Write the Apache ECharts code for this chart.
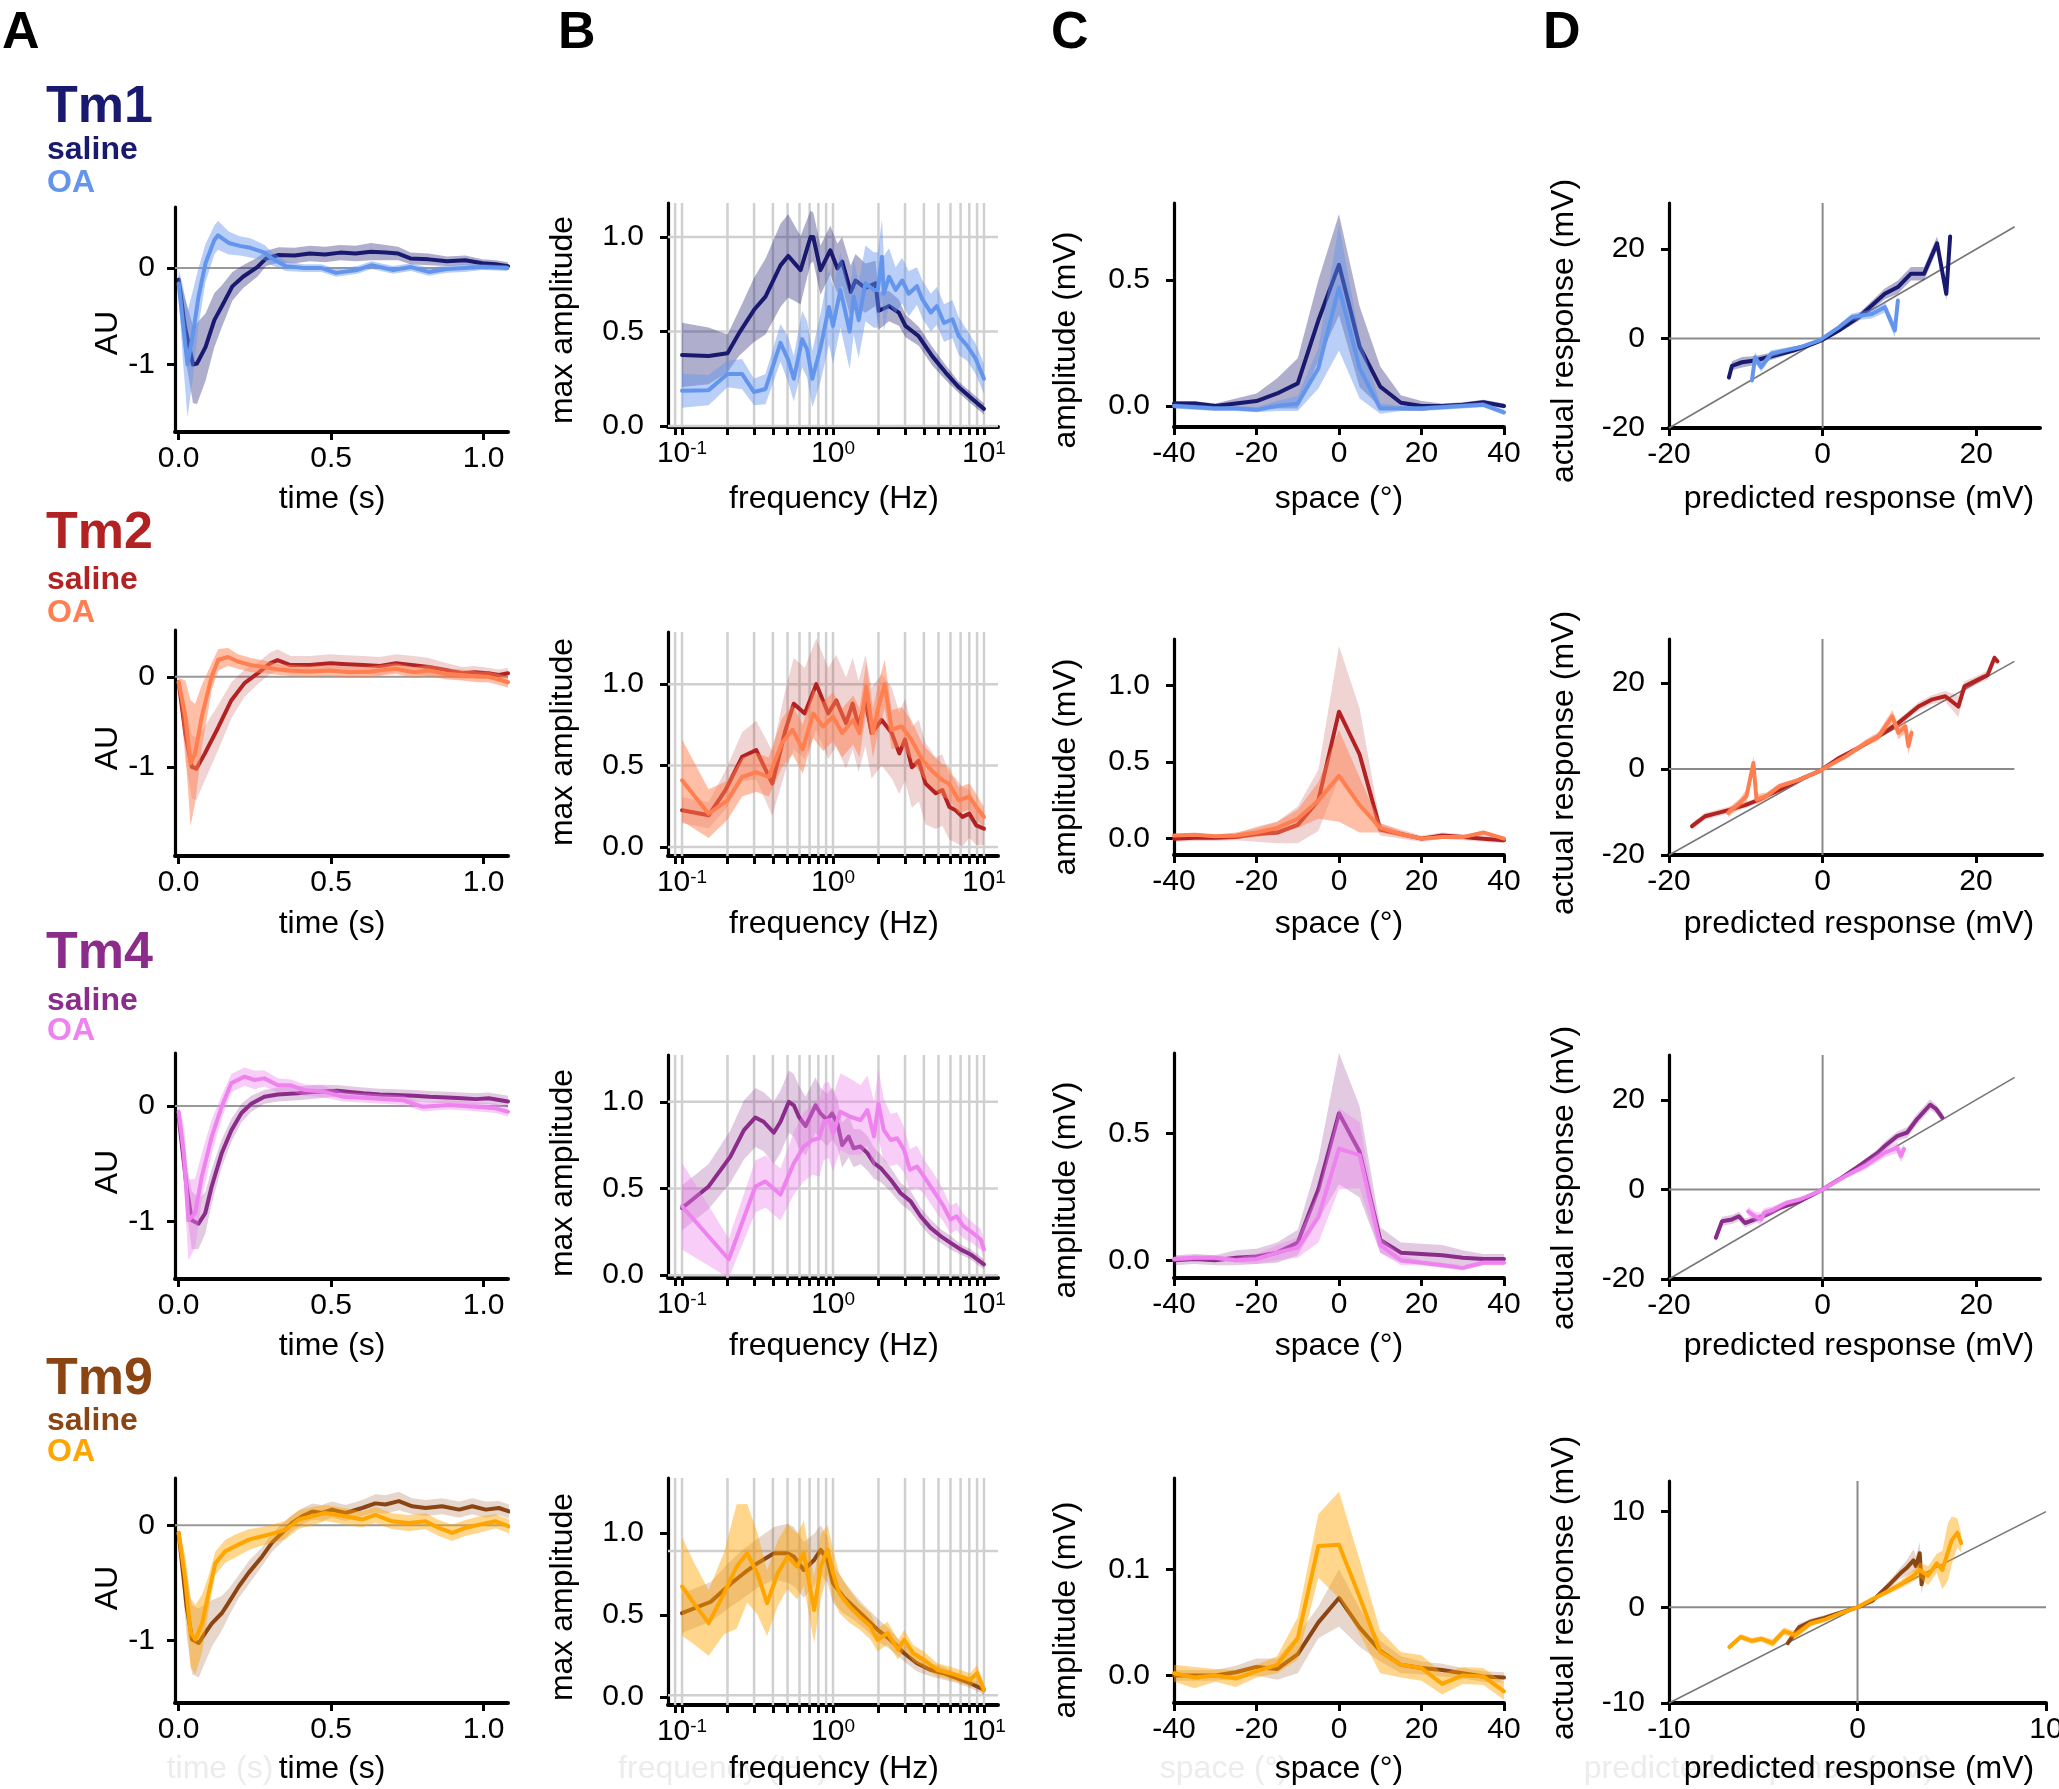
<!DOCTYPE html>
<html><head><meta charset="utf-8">
<script src="https://cdn.jsdelivr.net/npm/echarts@6/dist/echarts.min.js"></script>
<style>html,body{margin:0;padding:0;background:#fff;}#c{width:2059px;height:1789px;}</style>
</head><body><div id="c"></div>
<script>
// ===================== DATA =====================
// ---- Column A: temporal kernels (time s, AU) ----
const tm1TimeSalineT    = [0,0.02,0.047,0.06,0.088,0.117,0.141,0.176,0.211,0.258,0.287,0.328,0.38,0.43,0.48,0.53,0.58,0.63,0.68,0.72,0.76,0.82,0.88,0.94,0.996,1.04,1.08];
const tm1TimeSalineMean = [-0.12,-0.6,-1.0,-0.99,-0.82,-0.54,-0.40,-0.19,-0.09,0.01,0.10,0.135,0.13,0.15,0.14,0.16,0.15,0.17,0.16,0.15,0.10,0.09,0.07,0.08,0.05,0.04,0.02];
const tm1TimeSalineSem  = [0.05,0.3,0.4,0.42,0.35,0.28,0.22,0.15,0.12,0.1,0.08,0.08,0.08,0.08,0.08,0.08,0.08,0.09,0.08,0.07,0.06,0.06,0.05,0.05,0.04,0.04,0.04];
const tm1TimeOAT    = [0,0.015,0.029,0.047,0.065,0.088,0.117,0.129,0.164,0.2,0.235,0.282,0.305,0.352,0.41,0.469,0.516,0.586,0.633,0.703,0.762,0.82,0.879,0.938,0.996,1.078];
const tm1TimeOAMean = [-0.16,-0.6,-1.0,-0.68,-0.3,0.05,0.29,0.34,0.26,0.23,0.21,0.16,0.10,0.02,0.0,0.0,-0.05,-0.02,0.03,-0.02,0.01,-0.04,-0.01,0.0,0.01,0.0];
const tm1TimeOASem  = [0.15,0.4,0.55,0.45,0.3,0.2,0.15,0.15,0.12,0.1,0.1,0.08,0.07,0.05,0.04,0.04,0.04,0.04,0.04,0.04,0.04,0.04,0.04,0.04,0.03,0.03];

const tm2TimeSalineT    = [0,0.022,0.043,0.058,0.086,0.13,0.173,0.216,0.26,0.30,0.324,0.367,0.43,0.497,0.55,0.605,0.66,0.713,0.77,0.82,0.87,0.93,0.97,1.015,1.05,1.08];
const tm2TimeSalineMean = [-0.06,-0.63,-1.0,-1.02,-0.85,-0.56,-0.26,-0.07,0.04,0.15,0.185,0.13,0.13,0.15,0.14,0.13,0.12,0.15,0.13,0.11,0.08,0.04,0.05,0.04,0.02,0.04];
const tm2TimeSalineSem  = [0.05,0.3,0.35,0.35,0.3,0.25,0.2,0.15,0.12,0.12,0.12,0.1,0.1,0.1,0.1,0.1,0.1,0.1,0.1,0.1,0.08,0.07,0.07,0.06,0.06,0.06];
const tm2TimeOAT    = [0,0.022,0.039,0.054,0.076,0.108,0.13,0.162,0.194,0.238,0.28,0.33,0.367,0.43,0.497,0.56,0.626,0.68,0.713,0.77,0.82,0.88,0.93,0.98,1.015,1.05,1.08];
const tm2TimeOAMean = [-0.06,-0.44,-0.96,-0.85,-0.44,0.0,0.19,0.22,0.17,0.13,0.11,0.08,0.07,0.06,0.07,0.05,0.056,0.08,0.09,0.05,0.07,0.03,0.02,0.0,0.0,-0.03,-0.06];
const tm2TimeOASem  = [0.05,0.4,0.7,0.55,0.35,0.15,0.12,0.1,0.08,0.08,0.07,0.06,0.06,0.06,0.06,0.06,0.06,0.06,0.06,0.06,0.06,0.06,0.06,0.06,0.06,0.06,0.06];

const tm4TimeSalineT    = [0,0.026,0.043,0.065,0.087,0.108,0.141,0.173,0.206,0.238,0.281,0.325,0.39,0.455,0.52,0.57,0.606,0.66,0.714,0.77,0.823,0.88,0.93,0.975,1.017,1.08];
const tm4TimeSalineMean = [-0.09,-0.70,-0.99,-1.02,-0.93,-0.70,-0.41,-0.21,-0.06,0.02,0.08,0.10,0.11,0.125,0.133,0.12,0.11,0.10,0.096,0.09,0.08,0.075,0.067,0.06,0.067,0.04];
const tm4TimeSalineSem  = [0.05,0.2,0.25,0.22,0.18,0.15,0.12,0.1,0.08,0.07,0.06,0.06,0.06,0.06,0.05,0.05,0.05,0.05,0.05,0.05,0.05,0.05,0.05,0.05,0.05,0.05];
const tm4TimeOAT    = [0,0.017,0.032,0.054,0.076,0.108,0.141,0.173,0.216,0.249,0.281,0.325,0.368,0.411,0.476,0.54,0.628,0.736,0.80,0.887,0.974,1.04,1.08];
const tm4TimeOAMean = [-0.05,-0.41,-0.99,-0.93,-0.61,-0.27,-0.006,0.20,0.255,0.226,0.24,0.18,0.18,0.14,0.125,0.08,0.067,0.05,-0.006,0.01,-0.006,-0.02,-0.05];
const tm4TimeOASem  = [0.05,0.25,0.35,0.3,0.2,0.15,0.1,0.08,0.08,0.08,0.07,0.06,0.05,0.05,0.05,0.04,0.04,0.04,0.04,0.04,0.04,0.04,0.04];

const tm9TimeSalineT    = [0,0.026,0.044,0.066,0.088,0.109,0.142,0.164,0.197,0.23,0.274,0.306,0.339,0.372,0.405,0.438,0.47,0.503,0.547,0.602,0.645,0.678,0.722,0.766,0.81,0.864,0.92,0.963,1.007,1.05,1.083];
const tm9TimeSalineMean = [-0.066,-0.70,-0.99,-1.02,-0.93,-0.85,-0.76,-0.67,-0.53,-0.41,-0.27,-0.15,-0.066,0.02,0.078,0.12,0.107,0.136,0.107,0.15,0.19,0.18,0.21,0.165,0.15,0.165,0.136,0.165,0.136,0.15,0.12];
const tm9TimeSalineSem  = [0.05,0.25,0.3,0.3,0.25,0.2,0.15,0.12,0.1,0.1,0.08,0.08,0.08,0.07,0.07,0.07,0.07,0.07,0.07,0.07,0.08,0.08,0.08,0.07,0.07,0.07,0.07,0.07,0.07,0.06,0.06];
const tm9TimeOAT    = [0,0.022,0.039,0.055,0.077,0.098,0.12,0.153,0.186,0.23,0.274,0.317,0.35,0.394,0.438,0.48,0.547,0.602,0.645,0.70,0.755,0.81,0.853,0.897,0.94,0.985,1.04,1.083];
const tm9TimeOAMean = [-0.066,-0.47,-0.93,-0.99,-0.85,-0.59,-0.33,-0.225,-0.18,-0.124,-0.095,-0.066,-0.04,0.05,0.078,0.107,0.078,0.05,0.09,0.035,0.02,0.035,-0.023,-0.066,-0.023,0.006,0.035,-0.009];
const tm9TimeOASem  = [0.05,0.2,0.3,0.3,0.25,0.15,0.1,0.1,0.1,0.09,0.08,0.08,0.08,0.08,0.08,0.07,0.07,0.07,0.07,0.07,0.07,0.07,0.07,0.07,0.07,0.07,0.06,0.06];

// ---- Column B: frequency tuning (Hz, max amplitude) ----
const tm1FreqSalineHz   = [0.1,0.15,0.2,0.238,0.30,0.357,0.449,0.505,0.61,0.71,0.74,0.826,0.96,1.07,1.15,1.31,1.41,1.64,1.91,2.01,2.35,2.73,3.02,3.70,4.54,5.57,6.82,8.37,10];
const tm1FreqSalineMean = [0.376,0.371,0.385,0.49,0.615,0.685,0.85,0.90,0.825,1.0,1.0,0.825,0.93,0.834,0.87,0.71,0.77,0.73,0.755,0.61,0.635,0.60,0.53,0.475,0.37,0.283,0.205,0.143,0.091];
const tm1FreqSalineSem  = [0.17,0.15,0.1,0.12,0.17,0.2,0.22,0.22,0.18,0.14,0.13,0.13,0.13,0.13,0.13,0.14,0.14,0.13,0.12,0.1,0.08,0.07,0.06,0.05,0.05,0.04,0.03,0.03,0.03];
const tm1FreqOAHz   = [0.1,0.15,0.2,0.25,0.30,0.357,0.449,0.505,0.55,0.625,0.674,0.73,0.83,0.94,1.0,1.12,1.29,1.37,1.48,1.64,1.86,1.98,2.11,2.17,2.35,2.6,2.87,3.17,3.6,3.91,4.45,4.87,5.44,6.18,6.82,7.74,8.82,10];
const tm1FreqOAMean = [0.187,0.19,0.275,0.275,0.18,0.196,0.44,0.35,0.25,0.46,0.405,0.25,0.42,0.63,0.53,0.72,0.50,0.685,0.56,0.755,0.72,0.72,0.895,0.70,0.79,0.72,0.77,0.70,0.74,0.67,0.60,0.635,0.545,0.565,0.475,0.425,0.355,0.25];
const tm1FreqOASem  = [0.09,0.08,0.07,0.08,0.07,0.08,0.1,0.12,0.12,0.15,0.15,0.15,0.18,0.2,0.2,0.2,0.2,0.2,0.2,0.2,0.2,0.2,0.2,0.2,0.15,0.12,0.12,0.12,0.1,0.1,0.1,0.1,0.1,0.1,0.1,0.08,0.08,0.08];

const tm2FreqSalineHz   = [0.1,0.15,0.194,0.25,0.31,0.396,0.485,0.55,0.65,0.775,0.93,1.05,1.22,1.35,1.48,1.64,1.8,2.1,2.45,2.75,3.0,3.33,3.7,4.1,4.8,5.3,5.9,6.5,7.2,8.0,8.9,10];
const tm2FreqSalineMean = [0.226,0.195,0.35,0.554,0.595,0.39,0.72,0.88,0.82,1.0,0.82,0.9,0.76,0.88,0.74,0.9,0.70,0.78,0.70,0.575,0.66,0.49,0.53,0.39,0.33,0.35,0.246,0.226,0.185,0.205,0.133,0.113];
const tm2FreqSalineSem  = [0.08,0.08,0.12,0.15,0.18,0.2,0.25,0.28,0.28,0.28,0.28,0.28,0.28,0.28,0.28,0.28,0.28,0.28,0.28,0.25,0.25,0.25,0.25,0.25,0.22,0.22,0.2,0.2,0.18,0.15,0.12,0.1];
const tm2FreqOAHz   = [0.1,0.15,0.2,0.25,0.31,0.375,0.46,0.54,0.63,0.74,0.86,1.0,1.15,1.36,1.5,1.66,1.84,2.0,2.2,2.45,2.85,3.3,3.9,4.5,5.3,5.85,6.8,8.0,8.9,10];
const tm2FreqOAMean = [0.41,0.205,0.287,0.43,0.46,0.43,0.64,0.72,0.60,0.82,0.74,0.80,0.70,0.78,0.70,0.985,0.70,0.86,1.0,0.72,0.74,0.66,0.535,0.47,0.41,0.39,0.287,0.31,0.246,0.185];
const tm2FreqOASem  = [0.25,0.15,0.12,0.12,0.12,0.12,0.15,0.15,0.15,0.15,0.15,0.15,0.15,0.15,0.15,0.15,0.15,0.15,0.15,0.12,0.12,0.12,0.1,0.1,0.1,0.1,0.08,0.08,0.08,0.06];

const tm4FreqSalineHz   = [0.1,0.15,0.209,0.257,0.306,0.347,0.405,0.449,0.51,0.55,0.594,0.658,0.766,0.826,0.914,0.986,1.07,1.15,1.27,1.37,1.52,1.69,1.87,2.07,2.41,2.80,3.27,3.80,4.43,5.16,6.01,7.0,8.16,10];
const tm4FreqSalineMean = [0.388,0.512,0.684,0.837,0.91,0.885,0.822,0.885,1.0,0.98,0.914,0.86,0.98,0.933,0.895,0.933,0.876,0.751,0.80,0.732,0.742,0.704,0.646,0.618,0.551,0.474,0.426,0.34,0.273,0.226,0.187,0.149,0.12,0.063];
const tm4FreqSalineSem  = [0.13,0.13,0.15,0.17,0.17,0.17,0.18,0.18,0.18,0.18,0.18,0.17,0.16,0.15,0.15,0.15,0.14,0.13,0.12,0.11,0.1,0.1,0.09,0.08,0.07,0.06,0.06,0.05,0.05,0.04,0.04,0.03,0.03,0.03];
const tm4FreqOAHz   = [0.1,0.204,0.306,0.357,0.449,0.55,0.64,0.73,0.81,0.87,0.94,1.0,1.12,1.3,1.52,1.69,1.87,2.0,2.17,2.41,2.66,2.96,3.23,3.6,4.0,4.43,4.9,5.4,6.0,6.6,7.3,8.4,9.5,10];
const tm4FreqOAMean = [0.398,0.092,0.512,0.541,0.465,0.646,0.742,0.78,0.79,0.885,0.895,0.818,0.943,0.914,0.895,0.952,0.80,0.99,0.837,0.78,0.79,0.723,0.608,0.627,0.57,0.512,0.455,0.398,0.321,0.34,0.283,0.245,0.206,0.149];
const tm4FreqOASem  = [0.25,0.12,0.15,0.15,0.15,0.18,0.2,0.2,0.22,0.22,0.22,0.22,0.22,0.22,0.2,0.2,0.2,0.2,0.18,0.15,0.15,0.13,0.12,0.12,0.1,0.1,0.1,0.09,0.08,0.08,0.07,0.06,0.06,0.05];

const tm9FreqSalineHz   = [0.1,0.155,0.21,0.257,0.316,0.407,0.5,0.55,0.64,0.75,0.83,0.92,1.0,1.17,1.37,1.6,1.97,2.4,2.96,3.6,4.4,5.4,6.6,8.1,10];
const tm9FreqSalineMean = [0.51,0.58,0.69,0.754,0.815,0.876,0.876,0.856,0.774,0.835,0.896,0.835,0.693,0.61,0.55,0.49,0.41,0.348,0.266,0.205,0.165,0.144,0.114,0.083,0.043];
const tm9FreqSalineSem  = [0.12,0.12,0.14,0.15,0.15,0.16,0.18,0.18,0.17,0.16,0.15,0.14,0.12,0.1,0.08,0.07,0.07,0.06,0.05,0.05,0.04,0.04,0.03,0.03,0.03];
const tm9FreqOAHz   = [0.1,0.12,0.15,0.19,0.23,0.27,0.315,0.366,0.43,0.5,0.58,0.64,0.75,0.83,0.92,1.0,1.1,1.29,1.5,1.77,1.97,2.3,2.7,2.96,3.4,4.0,4.9,6.0,7.0,8.1,9.0,10];
const tm9FreqOAMean = [0.673,0.57,0.45,0.632,0.795,0.876,0.754,0.571,0.754,0.856,0.795,0.876,0.53,0.795,0.896,0.754,0.632,0.55,0.49,0.43,0.348,0.388,0.287,0.348,0.266,0.226,0.165,0.144,0.124,0.104,0.144,0.043];
const tm9FreqOASem  = [0.3,0.25,0.2,0.25,0.38,0.3,0.25,0.2,0.2,0.2,0.2,0.2,0.2,0.2,0.15,0.15,0.12,0.1,0.08,0.08,0.07,0.07,0.06,0.06,0.05,0.05,0.04,0.04,0.04,0.04,0.05,0.04];

// ---- Column C: spatial receptive fields (deg, mV) ----
const spaceDeg = [-40,-35,-30,-25,-20,-15,-10,-5,0,5,10,15,20,25,30,35,40];
const tm1SpaceSalineMean = [0.01,0.01,0.0,0.01,0.02,0.05,0.09,0.34,0.56,0.235,0.077,0.013,0.0,0.0,0.005,0.015,0.0];
const tm1SpaceSalineSem  = [0.01,0.01,0.01,0.02,0.03,0.06,0.1,0.16,0.2,0.16,0.08,0.03,0.02,0.01,0.01,0.01,0.01];
const tm1SpaceOAMean = [0.0,-0.005,-0.01,-0.01,-0.015,0.0,0.01,0.15,0.47,0.15,-0.01,-0.01,-0.01,-0.005,0.0,0.005,-0.025];
const tm1SpaceOASem  = [0.01,0.01,0.01,0.01,0.01,0.02,0.03,0.08,0.25,0.12,0.02,0.01,0.01,0.01,0.01,0.01,0.01];
const tm2SpaceSalineMean = [0.0,0.005,0.005,0.01,0.03,0.04,0.09,0.25,0.83,0.55,0.06,0.03,0.0,0.02,0.01,0.0,-0.01];
const tm2SpaceSalineSem  = [0.02,0.02,0.02,0.02,0.05,0.07,0.12,0.2,0.43,0.3,0.04,0.03,0.02,0.02,0.02,0.02,0.02];
const tm2SpaceOAMean = [0.02,0.025,0.015,0.02,0.04,0.07,0.13,0.25,0.41,0.22,0.07,0.03,0.0,0.01,0.01,0.04,0.0];
const tm2SpaceOASem  = [0.01,0.01,0.01,0.02,0.03,0.04,0.06,0.12,0.3,0.18,0.03,0.02,0.01,0.01,0.01,0.01,0.01];
const tm4SpaceSalineMean = [0.0,0.005,0.0,0.01,0.015,0.03,0.07,0.28,0.58,0.428,0.08,0.03,0.025,0.02,0.01,0.005,0.005];
const tm4SpaceSalineSem  = [0.02,0.02,0.02,0.03,0.03,0.04,0.05,0.12,0.28,0.18,0.05,0.04,0.04,0.04,0.03,0.02,0.02];
const tm4SpaceOAMean = [0.005,0.01,0.01,0.0,0.005,0.03,0.05,0.17,0.44,0.415,0.06,0.0,-0.01,-0.02,-0.03,-0.01,-0.01];
const tm4SpaceOASem  = [0.01,0.01,0.01,0.01,0.02,0.03,0.04,0.1,0.16,0.13,0.03,0.02,0.01,0.01,0.01,0.01,0.01];
const tm9SpaceSalineMean = [0.0,0.0,0.0,0.003,0.008,0.006,0.02,0.05,0.073,0.045,0.023,0.01,0.007,0.005,0.002,-0.001,-0.002];
const tm9SpaceSalineSem  = [0.005,0.005,0.005,0.006,0.008,0.01,0.018,0.015,0.027,0.018,0.01,0.008,0.006,0.006,0.005,0.005,0.005];
const tm9SpaceOAMean = [0.002,-0.002,0.0,-0.003,0.004,0.01,0.035,0.122,0.123,0.074,0.022,0.01,0.007,-0.008,0.0,-0.001,-0.015];
const tm9SpaceOASem  = [0.008,0.01,0.006,0.008,0.006,0.008,0.02,0.03,0.05,0.035,0.02,0.012,0.012,0.01,0.008,0.008,0.008];

// ---- Column D: predicted vs actual response (mV) ----
const tm1LinSalinePred = [-12.2,-11.8,-10.5,-8.8,-6.3,-3.8,-1.3,0,2.1,4.7,6.4,8.1,9.8,11.5,13.2,14.9,16.1,16.6];
const tm1LinSalineAct  = [-8.7,-6.1,-5.3,-4.9,-3.8,-2.7,-1.2,-0.3,1.8,4.8,7.4,10.0,11.5,14.5,14.5,21.3,10.0,22.8];
const tm1LinSalineSem  = [0.8,1,1.2,1,0.8,0.5,0.3,0.3,0.5,0.8,1,1.2,1.5,1.5,1.5,1.5,1.5,1];
const tm1LinOAPred = [-9.2,-8.8,-8.0,-6.7,-5.0,-2.9,-0.4,2.1,3.8,6.4,8.1,9.4,9.8];
const tm1LinOAAct  = [-9.4,-4.2,-6.4,-3.4,-2.7,-1.9,-0.4,2.5,4.8,5.5,7.0,1.8,8.5];
const tm1LinOASem  = [1,1.2,1,0.8,0.6,0.4,0.3,0.5,0.8,1,1.2,1.5,1];
const tm2LinSalinePred = [-17,-15.3,-13.6,-11.9,-9.9,-8.2,-5.6,-3.0,-0.4,2.2,4.7,7.3,9.9,12.5,14.2,16.0,17.7,18.5,20.2,21.5,22.4,22.8];
const tm2LinSalineAct  = [-13.3,-11,-10.2,-9.4,-8.3,-7.1,-4.8,-2.5,-0.5,2.6,4.9,7.6,10.7,14.5,16.1,16.9,14.5,19.2,20.7,21.8,25.8,25];
const tm2LinSalineSem  = [0.8,0.8,0.8,0.8,0.7,0.6,0.5,0.4,0.3,0.4,0.5,0.6,0.8,1,1,1.2,2.5,1.2,1,1,0.8,0.8];
const tm2LinOAPred = [-12.3,-10.8,-9.9,-9.0,-8.6,-7.3,-5.6,-3.0,-0.4,3.0,5.6,7.3,9.1,9.9,10.8,11.2,11.6];
const tm2LinOAAct  = [-10.2,-7.9,-6.3,1.4,-7.1,-6.3,-4.0,-2.5,-0.5,2.9,6.0,7.6,12.2,8.4,9.9,5.3,8.4];
const tm2LinOASem  = [1,1,1.5,1.5,1.2,0.8,0.6,0.4,0.3,0.5,0.8,1,1.5,1.5,1.5,2,1.5];
const tm4LinSalinePred = [-13.9,-13.1,-11.8,-10.9,-10.1,-8.8,-7.2,-5.5,-2.9,-0.4,2.1,4.7,7.2,8.1,9.7,11.0,12.3,14.0,14.8,15.6];
const tm4LinSalineAct  = [-10.8,-7.1,-6.7,-6.0,-7.5,-6.7,-5.6,-4.1,-2.6,-0.4,2.2,5.2,8.2,9.7,11.9,12.7,15.7,18.9,17.9,16.0];
const tm4LinSalineSem  = [1,1,1,1,1,0.8,0.6,0.5,0.4,0.3,0.4,0.6,0.8,1,1,1.2,1.2,1.2,1,1];
const tm4LinOAPred = [-9.7,-8.8,-8.0,-7.6,-6.4,-4.7,-2.9,-0.4,3.0,5.5,8.1,9.7,10.2,10.6];
const tm4LinOAAct  = [-4.9,-6.0,-6.7,-5.2,-4.5,-3.0,-2.2,-0.4,3.0,5.2,8.2,9.3,7.5,9.0];
const tm4LinOASem  = [1,1,1.5,1,0.8,0.6,0.4,0.3,0.5,0.8,1,1.2,1.5,1.2];
const tm9LinSalinePred = [-3.7,-3.1,-2.5,-1.75,-1.0,0,0.8,1.7,2.3,2.6,2.97,3.1,3.3,3.4,3.5];
const tm9LinSalineAct  = [-3.75,-2.1,-1.5,-1.1,-0.6,0,0.7,2.4,3.6,4.1,4.9,4.3,5.65,2.4,3.3];
const tm9LinSalineSem  = [0.4,0.4,0.3,0.3,0.2,0.1,0.2,0.4,0.6,0.8,1.2,1,1.2,1,0.8];
const tm9LinOAPred = [-6.8,-6.2,-5.6,-5.1,-4.5,-3.9,-3.3,-2.5,-1.75,-1.0,0,0.78,1.56,2.3,2.97,3.3,3.75,4.2,4.5,4.8,5.0,5.3,5.5];
const tm9LinOAAct  = [-4.15,-3.1,-3.5,-3.3,-3.75,-2.5,-2.9,-1.7,-1.3,-0.7,0,0.84,1.6,2.4,3.3,3.9,3.3,4.6,3.9,5.8,7.0,7.8,6.7];
const tm9LinOASem  = [0.3,0.3,0.3,0.3,0.4,0.4,0.4,0.3,0.2,0.2,0.1,0.2,0.3,0.4,0.6,0.8,1,1,2,3,2.5,1.5,1];

// ---- tick labels / grid values ----
const timeTicks = [0, 0.5, 1.0];
const auTicks = [-1, 0];
const freqDecades = [0.1, 1, 10];
const freqGridHz = [0.09,0.1,0.2,0.3,0.4,0.5,0.6,0.7,0.8,0.9,1,2,3,4,5,6,7,8,9,10];
const ampTicks = [0, 0.5, 1.0];
const spaceTicks = [-40, -20, 0, 20, 40];
const spaceAmpTicksSmall = [0, 0.5];
const spaceAmpTicksTm2 = [0, 0.5, 1.0];
const spaceAmpTicksTm9 = [0, 0.1];
const linTicks = [-20, 0, 20];
const linTicksTm9 = [-10, 0, 10];

// ===================== STYLE / LAYOUT =====================
const FONT = '"Liberation Sans", Arial, Helvetica, sans-serif';
const cellColor = {Tm1:['#191970','#6495ED'], Tm2:['#B22222','#FF7F50'], Tm4:['#8B2C8B','#EE82EE'], Tm9:['#8B4513','#FFA500']};
const cellAlpha = {Tm1:[0.35,0.45], Tm2:[0.2,0.5], Tm4:[0.25,0.4], Tm9:[0.22,0.45]};
function rgba(hex, a){const n=parseInt(hex.slice(1),16);return `rgba(${(n>>16)&255},${(n>>8)&255},${n&255},${a})`;}
const log10 = v => Math.log10(v);

function P(kind, cell, box, xr, yr, yTicks, sal, oa, extra){ return Object.assign({kind, cell, box, xr, yr, yTicks, sal, oa}, extra||{}); }
const LX = [-1.093, 1.093];
const panels = [
  P('A','Tm1',[175,207,333,225],[-0.012,1.08],[-1.70,0.633],auTicks,[tm1TimeSalineT,tm1TimeSalineMean,tm1TimeSalineSem],[tm1TimeOAT,tm1TimeOAMean,tm1TimeOASem]),
  P('B','Tm1',[668,203,330,224],LX,[-0.005,1.18],ampTicks,[tm1FreqSalineHz,tm1FreqSalineMean,tm1FreqSalineSem],[tm1FreqOAHz,tm1FreqOAMean,tm1FreqOASem],{hGrid:[0,0.5,1.0]}),
  P('C','Tm1',[1174,203,330,224],[-40,40],[-0.083,0.805],spaceAmpTicksSmall,[spaceDeg,tm1SpaceSalineMean,tm1SpaceSalineSem],[spaceDeg,tm1SpaceOAMean,tm1SpaceOASem]),
  P('D','Tm1',[1669,203,371,225],[-20,28.3],[-20,30.3],linTicks,[tm1LinSalinePred,tm1LinSalineAct,tm1LinSalineSem],[tm1LinOAPred,tm1LinOAAct,tm1LinOASem],{hEnd:28.3,diag:[-20,25],xTicks:linTicks}),

  P('A','Tm2',[175,630,333,226],[-0.012,1.08],[-1.99,0.52],auTicks,[tm2TimeSalineT,tm2TimeSalineMean,tm2TimeSalineSem],[tm2TimeOAT,tm2TimeOAMean,tm2TimeOASem]),
  P('B','Tm2',[668,632,330,224],LX,[-0.055,1.32],ampTicks,[tm2FreqSalineHz,tm2FreqSalineMean,tm2FreqSalineSem],[tm2FreqOAHz,tm2FreqOAMean,tm2FreqOASem],{hGrid:[0,0.5,1.0]}),
  P('C','Tm2',[1174,639,330,216],[-40,40],[-0.107,1.305],spaceAmpTicksTm2,[spaceDeg,tm2SpaceSalineMean,tm2SpaceSalineSem],[spaceDeg,tm2SpaceOAMean,tm2SpaceOASem]),
  P('D','Tm2',[1669,639,373,216],[-20,28.6],[-20,30.2],linTicks,[tm2LinSalinePred,tm2LinSalineAct,tm2LinSalineSem],[tm2LinOAPred,tm2LinOAAct,tm2LinOASem],{hEnd:25,diag:[-20,25],xTicks:linTicks}),

  P('A','Tm4',[175,1053,333,226],[-0.012,1.08],[-1.50,0.46],auTicks,[tm4TimeSalineT,tm4TimeSalineMean,tm4TimeSalineSem],[tm4TimeOAT,tm4TimeOAMean,tm4TimeOASem]),
  P('B','Tm4',[668,1055,330,223],LX,[-0.016,1.27],ampTicks,[tm4FreqSalineHz,tm4FreqSalineMean,tm4FreqSalineSem],[tm4FreqOAHz,tm4FreqOAMean,tm4FreqOASem],{hGrid:[0,0.5,1.0]}),
  P('C','Tm4',[1174,1053,330,225],[-40,40],[-0.07,0.818],spaceAmpTicksSmall,[spaceDeg,tm4SpaceSalineMean,tm4SpaceSalineSem],[spaceDeg,tm4SpaceOAMean,tm4SpaceOASem]),
  P('D','Tm4',[1669,1055,371,224],[-20,28.3],[-20,30],linTicks,[tm4LinSalinePred,tm4LinSalineAct,tm4LinSalineSem],[tm4LinOAPred,tm4LinOAAct,tm4LinOASem],{hEnd:28.3,diag:[-20,25],xTicks:linTicks}),

  P('A','Tm9',[175,1478,333,225],[-0.012,1.08],[-1.54,0.41],auTicks,[tm9TimeSalineT,tm9TimeSalineMean,tm9TimeSalineSem],[tm9TimeOAT,tm9TimeOAMean,tm9TimeOASem]),
  P('B','Tm9',[668,1478,330,227],LX,[-0.05,1.335],ampTicks,[tm9FreqSalineHz,tm9FreqSalineMean,tm9FreqSalineSem],[tm9FreqOAHz,tm9FreqOAMean,tm9FreqOASem],{hGrid:[0.01,0.89]}),
  P('C','Tm9',[1174,1478,330,225],[-40,40],[-0.026,0.186],spaceAmpTicksTm9,[spaceDeg,tm9SpaceSalineMean,tm9SpaceSalineSem],[spaceDeg,tm9SpaceOAMean,tm9SpaceOASem]),
  P('D','Tm9',[1669,1481,377,222],[-10,10],[-10,13.2],linTicksTm9,[tm9LinSalinePred,tm9LinSalineAct,tm9LinSalineSem],[tm9LinOAPred,tm9LinOAAct,tm9LinOASem],{hEnd:10,diag:[-10,10],xTicks:linTicksTm9})
];

// ===================== BUILD =====================
const option = {animation:false, backgroundColor:'#ffffff', grid:[], xAxis:[], yAxis:[], series:[], graphic:[]};

function axisBase(gi, min, max, lineW){
  return {gridIndex:gi, type:'value', min, max, silent:true,
    axisLine:{show:true, onZero:false, lineStyle:{color:'#000', width:lineW}},
    axisTick:{show:true, length:8, lineStyle:{color:'#000', width:3}},
    splitLine:{show:false}, minorTick:{show:false}, minorSplitLine:{show:false}};
}
function bandItem(xs, m, s, yr, fill){
  return function(params, api){
    const n = Math.min(xs.length, m.length, s.length);
    const clamp = v => Math.max(yr[0], Math.min(yr[1], v));
    const pts = [];
    for (let i=0;i<n;i++) pts.push(api.coord([xs[i], clamp(m[i]+s[i])]));
    for (let i=n-1;i>=0;i--) pts.push(api.coord([xs[i], clamp(m[i]-s[i])]));
    return {type:'polygon', shape:{points:pts}, style:{fill}};
  };
}
function guideItem(lines){
  return function(params, api){
    return {type:'group', children: lines.map(l => {
      const a = api.coord([l[0],l[1]]), b = api.coord([l[2],l[3]]);
      return {type:'line', shape:{x1:a[0],y1:a[1],x2:b[0],y2:b[1]}, style:{stroke:l[4], lineWidth:l[5]}};
    })};
  };
}

panels.forEach((p, gi) => {
  option.grid.push({left:p.box[0], top:p.box[1], width:p.box[2], height:p.box[3], containLabel:false, outerBoundsMode:'none'});
  const isLog = p.kind === 'B';
  const tx = isLog ? log10 : (v => v);
  const xa = axisBase(gi, p.xr[0], p.xr[1], 4);
  const ya = axisBase(gi, p.yr[0], p.yr[1], 3.2);
  const lab = {color:'#000', fontSize:30, fontFamily:FONT};
  if (p.kind === 'A') {
    xa.axisTick.customValues = timeTicks;
    xa.axisLabel = Object.assign({customValues:timeTicks, margin:12, formatter:v=>v.toFixed(1)}, lab);
    ya.axisLabel = Object.assign({customValues:p.yTicks, margin:20, formatter:v=>String(v)}, lab);
  } else if (p.kind === 'B') {
    xa.axisTick.customValues = freqGridHz.map(log10);
    xa.axisLabel = Object.assign({customValues:freqDecades.map(log10), margin:12,
      formatter:v=>'{b|10}{s|'+Math.round(v)+'}',
      rich:{b:{fontSize:30,fontFamily:FONT,color:'#000',lineHeight:30}, s:{fontSize:19,fontFamily:FONT,color:'#000',lineHeight:19,verticalAlign:'top'}}}, lab);
    ya.axisLabel = Object.assign({customValues:p.yTicks, margin:24, formatter:v=>v.toFixed(1)}, lab);
  } else if (p.kind === 'C') {
    xa.axisTick.customValues = spaceTicks;
    xa.axisLabel = Object.assign({customValues:spaceTicks, margin:12, formatter:v=>String(v)}, lab);
    ya.axisLabel = Object.assign({customValues:p.yTicks, margin:24, formatter:v=>v.toFixed(1)}, lab);
  } else {
    xa.axisTick.customValues = p.xTicks;
    xa.axisLabel = Object.assign({customValues:p.xTicks, margin:12, formatter:v=>String(v)}, lab);
    ya.axisLabel = Object.assign({customValues:p.yTicks, margin:24, formatter:v=>String(v)}, lab);
  }
  ya.axisTick.customValues = p.yTicks;
  option.xAxis.push(xa); option.yAxis.push(ya);

  // guide lines (zero lines, log grid, identity line)
  const g = [];
  if (p.kind === 'A') g.push([p.xr[0],0,p.xr[1],0,'#999',2]);
  if (p.kind === 'B') {
    freqGridHz.forEach(f => g.push([log10(f),p.yr[0],log10(f),p.yr[1],'#d0d0d0',2.5]));
    p.hGrid.forEach(h => g.push([p.xr[0],h,p.xr[1],h,'#d0d0d0',2.5]));
  }
  if (p.kind === 'D') {
    g.push([p.xr[0],0,p.hEnd,0,'#8a8a8a',2]);
    g.push([0,p.yr[0],0,p.yr[1],'#8a8a8a',2]);
    g.push([p.diag[0],p.diag[0],p.diag[1],p.diag[1],'#777',1.6]);
  }
  const mid = [(p.xr[0]+p.xr[1])/2, (p.yr[0]+p.yr[1])/2];
  if (g.length) option.series.push({type:'custom', xAxisIndex:gi, yAxisIndex:gi, z:1, silent:true, data:[mid], renderItem:guideItem(g)});

  const [c0, c1] = cellColor[p.cell];
  const [a0, a1] = cellAlpha[p.cell];
  [[p.sal, c0, a0, 2], [p.oa, c1, a1, 4]].forEach(([d, col, al, z]) => {
    const xs = d[0].map(tx);
    option.series.push({type:'custom', xAxisIndex:gi, yAxisIndex:gi, z:z, silent:true, data:[mid], renderItem:bandItem(xs, d[1], d[2], p.yr, rgba(col, al))});
    const n = Math.min(xs.length, d[1].length);
    const pts = []; for (let i=0;i<n;i++) pts.push([xs[i], d[1][i]]);
    option.series.push({type:'line', xAxisIndex:gi, yAxisIndex:gi, z:z+1, silent:true, data:pts, showSymbol:false, symbol:'none',
      lineStyle:{color:col, width:4, cap:'round', join:'round'}, itemStyle:{color:col}, emphasis:{disabled:true}});
  });
});

// ---------- texts ----------
function T(text, x, y, size, color, opts){
  const o = opts || {};
  option.graphic.push({type:'text', x, y, rotation:o.rot||0, z:o.z||100, silent:true,
    style:{text, fill:color, font:(o.bold?'bold ':'')+size+'px '+FONT, align:o.align||'center', verticalAlign:'middle'}});
}
[['A',2],['B',558],['C',1051],['D',1543]].forEach(([l,x]) => T(l, x, 34, 52, '#000', {bold:true, align:'left'}));
const titleRows = [['Tm1',108,150.5,183.5],['Tm2',534,580.5,613.5],['Tm4',954,1001.5,1031.5],['Tm9',1380,1421.5,1452.5]];
titleRows.forEach(([c,y1,y2,y3]) => {
  T(c, 46, y1, 52, cellColor[c][0], {bold:true, align:'left'});
  T('saline', 47, y2, 32, cellColor[c][0], {bold:true, align:'left'});
  T('OA', 47, y3, 32, cellColor[c][1], {bold:true, align:'left'});
});
const xNameY = [499, 924, 1346, 1769];
const xNames = [['time (s)',332],['frequency (Hz)',834],['space (°)',1339],['predicted response (mV)',1859]];
xNameY.forEach(y => xNames.forEach(([t,x]) => T(t, x, y, 32, '#000')));
// faint ghost labels present in the bottom row of the original
T('time (s)', 220, 1769, 32, '#ececec', {z:50});
T('frequency (Hz)', 723, 1769, 32, '#ececec', {z:50});
T('space (°)', 1224, 1769, 32, '#ececec', {z:50});
T('predicted response (mV)', 1759, 1769, 32, '#ececec', {z:50});
const yNames = [['AU',108,[333,748,1172,1588]],['max amplitude',563,[320,742,1173,1597]],['amplitude (mV)',1066,[340,767,1190,1610]],['actual response (mV)',1564,[331,763,1178,1588]]];
yNames.forEach(([t,x,ys]) => ys.forEach(y => T(t, x, y, 32, '#000', {rot:Math.PI/2})));

const chart = echarts.init(document.getElementById('c'), null, {renderer:'canvas', width:2059, height:1789});
chart.setOption(option);
</script></body></html>
